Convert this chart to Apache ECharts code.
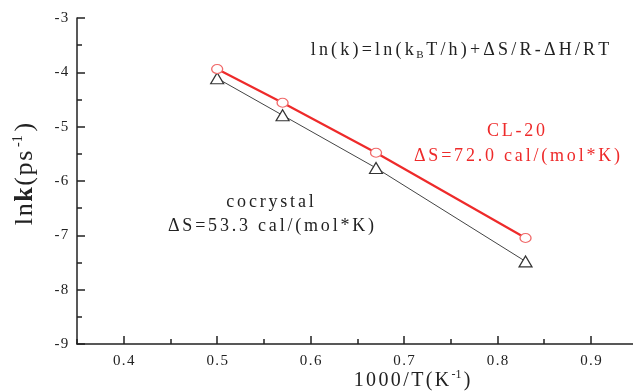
<!DOCTYPE html>
<html>
<head>
<meta charset="utf-8">
<script src="https://cdn.jsdelivr.net/npm/echarts@6/dist/echarts.min.js"></script>
<style>
html,body{margin:0;padding:0;background:#fff;}
#show{width:633px;height:392px;}
</style>
</head>
<body>
<div id="show"></div>
<script>
// data
var xVals = [0.5, 0.57, 0.67, 0.83];
var cl20 = [-3.94, -4.56, -5.48, -7.05];
var cocrystal = [-4.11, -4.79, -5.76, -7.48];
var xMajor = [0.4, 0.5, 0.6, 0.7, 0.8, 0.9];
var xMinor = [0.35, 0.45, 0.55, 0.65, 0.75, 0.85];

var FONT = '"Liberation Serif", "Times New Roman", serif';
var RED = '#ee2a2a';

// Origin style wide letter spacing: one rich token per char
function spaced(str, key) {
    return str.split('').map(function (c) { return '{' + key + '|' + c + '}'; }).join('');
}
function pairs(ys) {
    return xVals.map(function (x, i) { return [x, ys[i]]; });
}

var myChart = echarts.init(document.getElementById('show'));

var txt = function (size, color, pad) {
    return { fontFamily: FONT, fontSize: size, fill: color, color: color, padding: [0, pad] };
};

var option = {
    animation: false,
    grid: { left: 77, top: 18, right: 0, bottom: 48 },
    xAxis: [{
        type: 'value', min: 0.35, max: 0.945, interval: 0.05,
        axisLine: { lineStyle: { color: '#222', width: 1.5 } },
        axisTick: { inside: true, length: 8, customValues: xMajor, lineStyle: { color: '#222', width: 1.5 } },
        axisLabel: {
            customValues: xMajor, margin: 10,
            formatter: function (v) { return spaced(v.toFixed(1), 't'); },
            rich: { t: txt(15, '#222', 0.7) }
        },
        splitLine: { show: false }
    }, {
        type: 'value', min: 0.35, max: 0.945, interval: 0.05, position: 'bottom',
        axisLine: { show: false },
        axisTick: { inside: true, length: 5, customValues: xMinor, lineStyle: { color: '#222', width: 1.5 } },
        axisLabel: { show: false },
        splitLine: { show: false }
    }],
    yAxis: {
        type: 'value', min: -9, max: -3, interval: 1,
        axisLine: { show: true, lineStyle: { color: '#222', width: 1.5 } },
        axisTick: { show: true, inside: true, length: 8, lineStyle: { color: '#222', width: 1.5 } },
        minorTick: { show: true, splitNumber: 2, length: 5, lineStyle: { color: '#222', width: 1.5 } },
        axisLabel: {
            margin: 8,
            formatter: function (v) { return spaced(String(v), 't'); },
            rich: { t: txt(15, '#222', 0.7) }
        },
        splitLine: { show: false }
    },
    series: [{
        name: 'cocrystal', type: 'line', data: pairs(cocrystal),
        symbol: 'triangle', symbolSize: [13, 11],
        lineStyle: { color: '#444', width: 1 },
        itemStyle: { color: '#fff', borderColor: '#333', borderWidth: 1.2 }
    }, {
        name: 'CL-20', type: 'line', data: pairs(cl20),
        symbol: 'circle', symbolSize: [11, 9],
        lineStyle: { color: RED, width: 2.2 },
        itemStyle: { color: '#fff', borderColor: '#f06a6a', borderWidth: 1.2 }
    }],
    graphic: [{
        type: 'text', x: 460, y: 50,
        style: {
            text: spaced('ln(k)=ln(k', 'f') + '{sub|B}' + spaced('T/h)+ΔS/R-ΔH/RT', 'f'),
            align: 'center', verticalAlign: 'middle',
            rich: {
                f: txt(18, '#222', 1.6),
                sub: { fontFamily: FONT, fontSize: 11, fill: '#222', padding: [11, 1, 0, 1] }
            }
        }
    }, {
        type: 'text', x: 516, y: 131,
        style: { text: spaced('CL-20', 'r'), align: 'center', verticalAlign: 'middle', rich: { r: txt(18, RED, 1.4) } }
    }, {
        type: 'text', x: 517, y: 156,
        style: { text: spaced('ΔS=72.0 cal/(mol*K)', 'r'), align: 'center', verticalAlign: 'middle', rich: { r: txt(18, RED, 1.4) } }
    }, {
        type: 'text', x: 270, y: 202,
        style: { text: spaced('cocrystal', 'k'), align: 'center', verticalAlign: 'middle', rich: { k: txt(18, '#222', 1.4) } }
    }, {
        type: 'text', x: 271, y: 226,
        style: { text: spaced('ΔS=53.3 cal/(mol*K)', 'k'), align: 'center', verticalAlign: 'middle', rich: { k: txt(18, '#222', 1.4) } }
    }, {
        type: 'text', x: 412, y: 381,
        style: {
            text: spaced('1000/T(K', 'a') + '{sup|-1}' + spaced(')', 'a'),
            align: 'center', verticalAlign: 'middle',
            rich: {
                a: txt(20, '#222', 1.2),
                sup: { fontFamily: FONT, fontSize: 12, fill: '#222', padding: [0, 1, 12, 1] }
            }
        }
    }, {
        type: 'text', x: 25, y: 174, rotation: Math.PI / 2,
        style: {
            text: '{n|l}{n|n}{b|k}{n|(}{n|p}{n|s}{sup|-1}{n|)}',
            align: 'center', verticalAlign: 'middle',
            rich: {
                n: { fontFamily: FONT, fontSize: 26, fill: '#222', padding: [0, 0.8] },
                b: { fontFamily: FONT, fontSize: 26, fontWeight: 'bold', fill: '#222', padding: [0, 0.8] },
                sup: { fontFamily: FONT, fontSize: 14, fill: '#222', padding: [0, 3, 14, 3] }
            }
        }
    }]
};
myChart.setOption(option);
</script>
</body>
</html>
